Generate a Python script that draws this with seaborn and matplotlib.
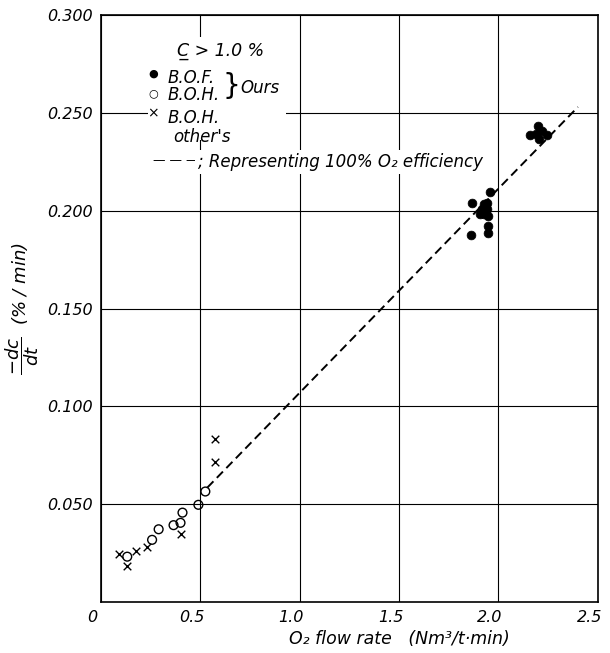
import matplotlib
matplotlib.use("Agg")
import matplotlib.pyplot as plt
import matplotlib.transforms as mtransforms
from matplotlib.patches import Rectangle
import seaborn as sns
import pandas as pd

# B.O.F. (ours) - filled dots
bof_x = [2.199, 2.157, 2.220, 2.246, 2.204, 2.187,
         1.955, 1.869, 1.926, 1.943, 1.918, 1.943, 1.926, 1.948, 1.909, 1.948, 1.948, 1.864]
bof_y = [0.2432, 0.2385, 0.2407, 0.2385, 0.2364, 0.2390,
         0.2097, 0.2041, 0.2034, 0.2037, 0.2008, 0.2008, 0.1983, 0.1975, 0.1983, 0.1924, 0.1885, 0.1878]

# B.O.H. (ours) - open circles
boh_x = [0.490, 0.525, 0.410, 0.400, 0.365, 0.290, 0.257, 0.132]
boh_y = [0.0497, 0.0565, 0.0457, 0.0405, 0.0393, 0.0372, 0.0318, 0.0232]

# B.O.H. (other's) - crosses
oth_x = [0.576, 0.576, 0.405, 0.229, 0.175, 0.093, 0.132]
oth_y = [0.0832, 0.0717, 0.0347, 0.0280, 0.0263, 0.0246, 0.0183]

# 100% O2 efficiency line
eff_x = [0.535, 2.40]
eff_y = [0.0585, 0.2530]

x_ticks = [0, 0.5, 1.0, 1.5, 2.0, 2.5]
x_labels = ["0", "0.5", "1.0", "1.5", "2.0", "2.5"]
y_ticks = [0.05, 0.10, 0.15, 0.20, 0.25, 0.30]
y_labels = ["0.050", "0.100", "0.150", "0.200", "0.250", "0.300"]

sns.set_style("white")
plt.rcParams['font.family'] = ['DejaVu Sans']
plt.rcParams['font.style'] = 'italic'
plt.rcParams['mathtext.fontset'] = 'dejavusans'
for k in ['text.color', 'axes.labelcolor', 'xtick.color', 'ytick.color']:
    plt.rcParams[k] = 'black'

fig, ax = plt.subplots(figsize=(6.1, 6.53), dpi=100)
fig.subplots_adjust(left=0.1656, right=0.980, top=0.977, bottom=0.078)

bof = pd.DataFrame({"x": bof_x, "y": bof_y})
boh = pd.DataFrame({"x": boh_x, "y": boh_y})
oth = pd.DataFrame({"x": oth_x, "y": oth_y})

sns.scatterplot(data=bof, x="x", y="y", color="black", s=40, edgecolor="black", ax=ax, zorder=3)
sns.scatterplot(data=boh, x="x", y="y", facecolor="none", edgecolor="black", linewidth=1.0,
                s=40, ax=ax, zorder=3)
sns.scatterplot(data=oth, x="x", y="y", marker="x", color="black", linewidth=1.0, s=30, ax=ax, zorder=3)
ax.plot(eff_x, eff_y, color="black", lw=1.4, dashes=(4.5, 2.5), zorder=2)

ax.set_xlim(0, 2.5)
ax.set_ylim(0, 0.3)
ax.set_xticks(x_ticks)
ax.set_xticklabels(x_labels, fontsize=11.5)
ax.set_yticks(y_ticks)
ax.set_yticklabels(y_labels, fontsize=11.5)
ax.tick_params(length=0, pad=6)
shift = mtransforms.ScaledTranslation(-6 / 72, 0, fig.dpi_scale_trans)
for lab in ax.get_xticklabels():
    lab.set_transform(lab.get_transform() + shift)

ax.set_axisbelow(True)
ax.grid(True, color="black", lw=0.8)
for sp in ax.spines.values():
    sp.set_color("black")
    sp.set_linewidth(1.2)

ax.set_xlabel("O₂ flow rate   (Nm³/t·min)", fontsize=12.5)
ax.xaxis.set_label_coords(0.6, -0.048)
ax.set_ylabel(r"$\dfrac{-dc}{dt}$  (% / min)", fontsize=13)
ax.yaxis.set_label_coords(-0.12, 0.5)

# legend block
ax.add_patch(Rectangle((0.235, 0.236), 0.695, 0.053, facecolor="white", edgecolor="none", zorder=2))
ax.text(0.382, 0.2815, "C\u0332 > 1.0 %", fontsize=12.5, va="center", ha="left", zorder=4)
ax.text(0.262, 0.2700, "●", fontsize=8, va="center", ha="center", fontstyle="normal", zorder=4)
ax.text(0.262, 0.2600, "○", fontsize=8, va="center", ha="center", fontstyle="normal", zorder=4)
ax.text(0.262, 0.2499, "×", fontsize=10, va="center", ha="center", fontstyle="normal", zorder=4)
ax.text(0.337, 0.2677, "B.O.F.", fontsize=12, va="center", ha="left", zorder=4)
ax.text(0.337, 0.2590, "B.O.H.", fontsize=12, va="center", ha="left", zorder=4)
ax.text(0.337, 0.2473, "B.O.H.", fontsize=12, va="center", ha="left", zorder=4)
ax.text(0.362, 0.2376, "other's", fontsize=12, va="center", ha="left", zorder=4)
ax.text(0.655, 0.2635, "}", fontsize=20, va="center", ha="center", fontstyle="normal", zorder=4)
ax.text(0.700, 0.2627, "Ours", fontsize=12, va="center", ha="left", zorder=4)
ax.text(0.262, 0.2255, "— — —", fontsize=9, va="center", ha="left", fontstyle="normal", zorder=4,
        bbox=dict(facecolor="white", edgecolor="none", pad=2))
ax.text(0.488, 0.2248, "; Representing 100% O₂ efficiency", fontsize=12, va="center", ha="left", zorder=4,
        bbox=dict(facecolor="white", edgecolor="none", pad=2))

plt.savefig("out.png", dpi=100)
